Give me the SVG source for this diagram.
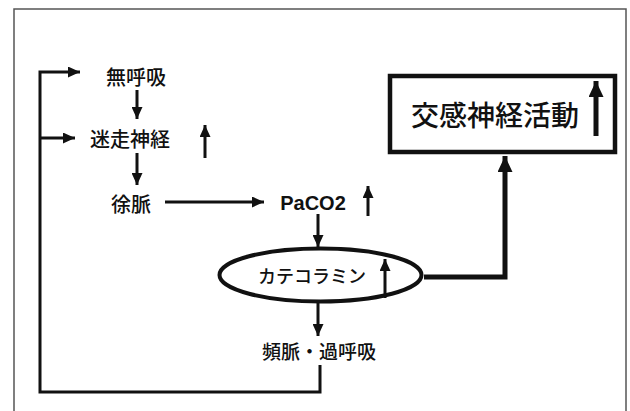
<svg xmlns="http://www.w3.org/2000/svg" width="630" height="411" viewBox="0 0 630 411">
<style>
.t{font-family:"Noto Sans CJK JP","Liberation Sans",sans-serif;font-size:20px;font-weight:500;fill:#111;dominant-baseline:central;text-anchor:middle}
.b{font-family:"Liberation Sans","Noto Sans CJK JP",sans-serif;font-size:20px;font-weight:bold;fill:#111;dominant-baseline:central;text-anchor:middle}
.c{fill:none;stroke:#111;stroke-width:3;stroke-linejoin:miter}
.a{marker-end:url(#ah)}
.w{stroke-width:5;marker-end:url(#ahL)}
.frame{fill:none;stroke:#555;stroke-width:1.5}
</style>
<defs>
<marker id="ah" markerUnits="userSpaceOnUse" markerWidth="12" markerHeight="11" refX="12" refY="5.5" orient="auto">
<path d="M0,0 L12,5.5 L0,11 z" fill="#111"/>
</marker>
<marker id="ahL" markerUnits="userSpaceOnUse" markerWidth="16" markerHeight="15" refX="16" refY="7.5" orient="auto">
<path d="M0,0 L16,7.5 L0,15 z" fill="#111"/>
</marker>
</defs>
<rect width="630" height="411" fill="#fff"/>
<path class="frame" d="M14,411 L14,9 L626,9 L626,411"/>
<g id="node-mukokyu"><text class="t" x="136" y="76">無呼吸</text></g>
<g id="node-meisou"><text class="t" x="130" y="138">迷走神経</text>
<line class="c a" x1="205" y1="158" x2="205" y2="125"/></g>
<g id="node-jomyaku"><text class="t" x="131" y="203">徐脈</text></g>
<g id="node-paco2"><text class="b" x="313" y="203">PaCO2</text>
<line class="c a" x1="368" y1="216" x2="368" y2="186"/></g>
<g id="node-catecholamine"><ellipse cx="320.5" cy="275" rx="101" ry="26.5" fill="none" stroke="#111" stroke-width="4"/>
<text class="t" style="font-size:18px" x="312" y="275">カテコラミン</text>
<line class="c a" x1="385" y1="298" x2="385" y2="259"/></g>
<g id="node-sympathetic"><rect x="390" y="76" width="225" height="76" fill="none" stroke="#111" stroke-width="4.5"/>
<text class="t" style="font-size:28px" x="495" y="114">交感神経活動</text>
<line class="c w" x1="596" y1="136" x2="596" y2="81"/></g>
<g id="node-tachy"><text class="t" style="font-size:19px" x="319" y="350">頻脈・過呼吸</text></g>
<g id="connectors">
<line class="c a" x1="137" y1="90" x2="137" y2="119"/>
<line class="c a" x1="137" y1="153" x2="137" y2="185"/>
<line class="c a" x1="165" y1="202" x2="264" y2="202"/>
<line class="c a" x1="318" y1="214" x2="318" y2="247"/>
<line class="c a" x1="318" y1="302" x2="318" y2="336"/>
<polyline class="c w" points="424,277 505,277 505,156"/>
<polyline class="c a" points="320,365 320,392 40,392 40,72 80,72"/>
<polyline class="c a" points="40,138 75,138"/>
</g>
</svg>
